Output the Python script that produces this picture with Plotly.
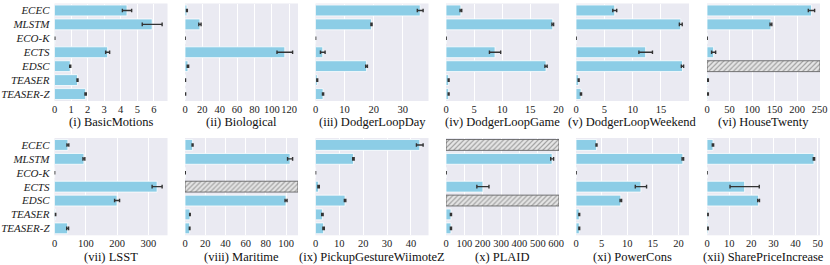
import plotly.graph_objects as go

methods = ["ECEC", "MLSTM", "ECO-K", "ECTS", "EDSC", "TEASER", "TEASER-Z"]

titles = ["(i) BasicMotions", "(ii) Biological", "(iii) DodgerLoopDay",
          "(iv) DodgerLoopGame", "(v) DodgerLoopWeekend", "(vi) HouseTwenty",
          "(vii) LSST", "(viii) Maritime", "(ix) PickupGestureWiimoteZ",
          "(x) PLAID", "(xi) PowerCons", "(xii) SharePriceIncrease"]

# mean time per method (None = not available, drawn hatched)
basicmotions = [4.38, 5.9, 0.02, 3.21, 0.95, 1.39, 1.88]
basicmotions_err = [0.28, 0.6, 0.0, 0.12, 0.03, 0.03, 0.04]
biological = [2.2, 17.2, 0.2, 115.0, 3.4, 0.5, 0.6]
biological_err = [0.5, 1.3, 0.0, 9.0, 0.8, 0.1, 0.1]
dodgerloopday = [36.0, 19.25, 0.05, 2.5, 17.55, 0.6, 2.6]
dodgerloopday_err = [1.0, 0.2, 0.0, 0.8, 0.3, 0.15, 0.2]
dodgerloopgame = [2.65, 19.0, 0.03, 8.73, 17.8, 0.47, 0.47]
dodgerloopgame_err = [0.15, 0.15, 0.0, 1.0, 0.2, 0.08, 0.08]
dodgerloopweekend = [6.84, 18.5, 0.03, 12.3, 18.8, 0.47, 0.88]
dodgerloopweekend_err = [0.35, 0.25, 0.0, 1.2, 0.2, 0.08, 0.1]
housetwenty = [232.0, 142.0, 0.5, 14.7, None, 2.0, 2.0]
housetwenty_err = [7.0, 2.0, 0.0, 4.5, None, 1.0, 1.0]
lsst = [42.8, 94.0, 0.5, 328.0, 200.0, 3.0, 42.0]
lsst_err = [3.0, 3.0, 0.0, 16.0, 8.0, 1.0, 3.0]
maritime = [7.5, 104.0, 0.3, None, 100.0, 4.9, 4.6]
maritime_err = [0.5, 2.5, 0.0, None, 1.0, 0.3, 0.3]
pickup = [43.7, 15.9, 0.05, 1.3, 12.4, 2.9, 3.4]
pickup_err = [1.4, 0.3, 0.0, 0.3, 0.3, 0.3, 0.3]
plaid = [None, 578.0, 1.0, 201.0, None, 27.0, 27.0]
plaid_err = [None, 8.0, 0.0, 33.0, None, 3.0, 3.0]
powercons = [4.0, 20.85, 0.03, 12.67, 8.75, 0.64, 0.64]
powercons_err = [0.1, 0.15, 0.0, 1.1, 0.15, 0.08, 0.08]
shareprice = [2.7, 48.3, 0.05, 17.0, 23.3, 0.45, 0.45]
shareprice_err = [0.3, 0.3, 0.0, 6.6, 0.4, 0.1, 0.1]

series = [basicmotions, biological, dodgerloopday, dodgerloopgame,
          dodgerloopweekend, housetwenty, lsst, maritime, pickup, plaid,
          powercons, shareprice]
errors = [basicmotions_err, biological_err, dodgerloopday_err, dodgerloopgame_err,
          dodgerloopweekend_err, housetwenty_err, lsst_err, maritime_err, pickup_err,
          plaid_err, powercons_err, shareprice_err]
tick_steps = [1, 20, 10, 5, 5, 50, 100, 20, 10, 100, 5, 10]

W, H = 830, 265
col_x0 = [54.5, 185, 315.5, 446, 576, 707]
col_w = 113
row_y = [(3.5, 101), (138, 235.3)]
title_y = [122, 257]

FONT = "Liberation Serif"
BAR = "#8CCDE6"
BG = "#EAEAF2"

fig = go.Figure()
layout = {}
annotations = []

for i in range(12):
    r, c = divmod(i, 6)
    idx = "" if i == 0 else str(i + 1)
    xa, ya = "x" + idx, "y" + idx
    vals, errs = series[i], errors[i]
    tops = [v + e for v, e in zip(vals, errs) if v is not None]
    xmax = max(tops) * 1.05

    fig.add_trace(go.Bar(
        x=vals, y=methods, orientation="h", width=0.78,
        marker=dict(color=BAR, line=dict(color="white", width=0.8)),
        error_x=dict(type="data", array=[e if e is not None else 0 for e in errs],
                     color="#333333", thickness=1.4, width=1.8),
        xaxis=xa, yaxis=ya, showlegend=False, hoverinfo="skip"))

    miss = [xmax if v is None else None for v in vals]
    if any(m is not None for m in miss):
        fig.add_trace(go.Bar(
            x=miss, y=methods, orientation="h", width=0.78,
            marker=dict(color="#dcdcdc", line=dict(color="#555555", width=0.8),
                        pattern=dict(shape="/", fgcolor="#5a5a5a", bgcolor="#e6e6e6",
                                     size=3.5, solidity=0.35)),
            xaxis=xa, yaxis=ya, showlegend=False, hoverinfo="skip"))

    x0 = col_x0[c] / W
    x1 = (col_x0[c] + col_w) / W
    yt, yb = row_y[r]
    layout["xaxis" + idx] = dict(
        domain=[x0, x1], anchor=ya, range=[0, xmax], dtick=tick_steps[i], tick0=0,
        showgrid=True, gridcolor="white", gridwidth=1, zeroline=False,
        showline=False, ticks="", tickangle=0,
        tickfont=dict(family=FONT, size=10.5, color="#222"),
        fixedrange=True)
    layout["yaxis" + idx] = dict(
        domain=[1 - yb / H, 1 - yt / H], anchor=xa, type="category",
        categoryorder="array", categoryarray=methods, autorange="reversed",
        showgrid=False, zeroline=False, showline=False, ticks="",
        showticklabels=(c == 0), ticklabelstandoff=4,
        tickfont=dict(family=FONT, size=11, color="#222", style="italic"),
        fixedrange=True)
    annotations.append(dict(
        text=titles[i], x=(x0 + x1) / 2, y=1 - title_y[r] / H,
        xref="paper", yref="paper", xanchor="center", yanchor="middle",
        showarrow=False, font=dict(family=FONT, size=12.5, color="#111")))

fig.update_layout(
    width=W, height=H, margin=dict(l=0, r=0, t=0, b=0, autoexpand=False),
    paper_bgcolor="white", plot_bgcolor=BG, barmode="overlay",
    annotations=annotations, **layout)

fig.write_html("out.html", config={"displayModeBar": False},
               post_script="document.body.style.margin='0';document.body.style.overflow='hidden';")
